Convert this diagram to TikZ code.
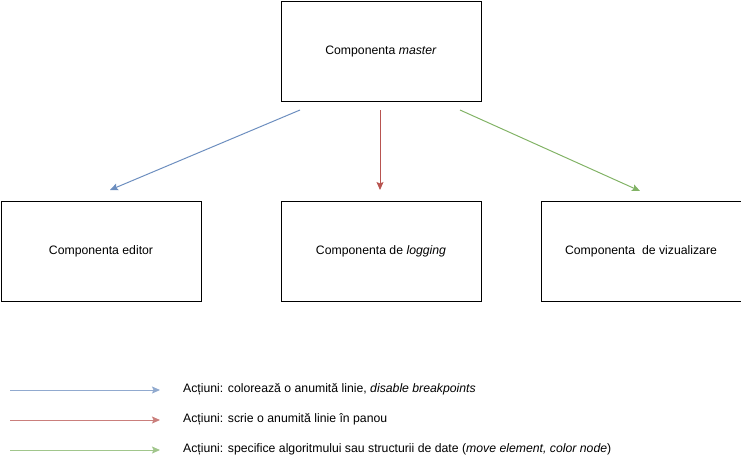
\documentclass[tikz,border=0pt]{standalone}
\usepackage{fontspec}
\setmainfont{Liberation Sans}
\usetikzlibrary{arrows.meta}
\definecolor{albastru}{HTML}{6C8EBF}
\definecolor{rosu}{HTML}{B85450}
\definecolor{verde}{HTML}{82B366}
\begin{document}
\begin{tikzpicture}[x=1pt, y=-1pt, font=\fontsize{12.25}{14}\selectfont,
	comp/.style={draw, line width=1pt, minimum width=200pt, minimum height=100pt, inner sep=0pt, anchor=north west},
	sageata/.style={line width=1pt, -{Stealth[length=8pt, width=7pt, inset=1.5pt]}}]
		\useasboundingbox (0,0) rectangle (741,461);
		\node[comp] (master) at (280.5,0.5) {Componenta \textit{master}};
		\node[comp] (editor) at (0.5,200.5) {Componenta editor};
		\node[comp] (logging) at (280.5,200.5) {Componenta de \textit{logging}};
		\node[comp] (vizual) at (540.5,200.5) {Componenta~ de vizualizare};
		\coordinate (m1) at (300,110);
		\coordinate (m2) at (380,110);
		\coordinate (m3) at (460,110);
		\coordinate (e1) at (110,190);
		\coordinate (l1) at (380,190);
		\coordinate (v1) at (640,191);
		\draw[sageata, albastru] (m1) -- (e1);
		\draw[sageata, rosu] (m2) -- (l1);
		\draw[sageata, verde] (m3) -- (v1);
		% legenda
		\coordinate (a1) at (10,390);
		\coordinate (b1) at (160,390);
		\coordinate (a2) at (10,420);
		\coordinate (b2) at (160,420);
		\coordinate (a3) at (10,450);
		\coordinate (b3) at (160,450);
		\draw[sageata, albastru!75] (a1) -- (b1);
		\draw[sageata, rosu!75] (a2) -- (b2);
		\draw[sageata, verde!75] (a3) -- (b3);
		\node[anchor=west, inner sep=0pt] (t1) at (183,389) {Acțiuni: colorează o anumită linie, \textit{disable breakpoints}};
		\node[anchor=west, inner sep=0pt] (t2) at (183,419) {Acțiuni: scrie o anumită linie în panou};
		\node[anchor=west, inner sep=0pt] (t3) at (183,449) {Acțiuni: specifice algoritmului sau structurii de date (\textit{move element, color node})};
		\end{tikzpicture}
\end{document}
